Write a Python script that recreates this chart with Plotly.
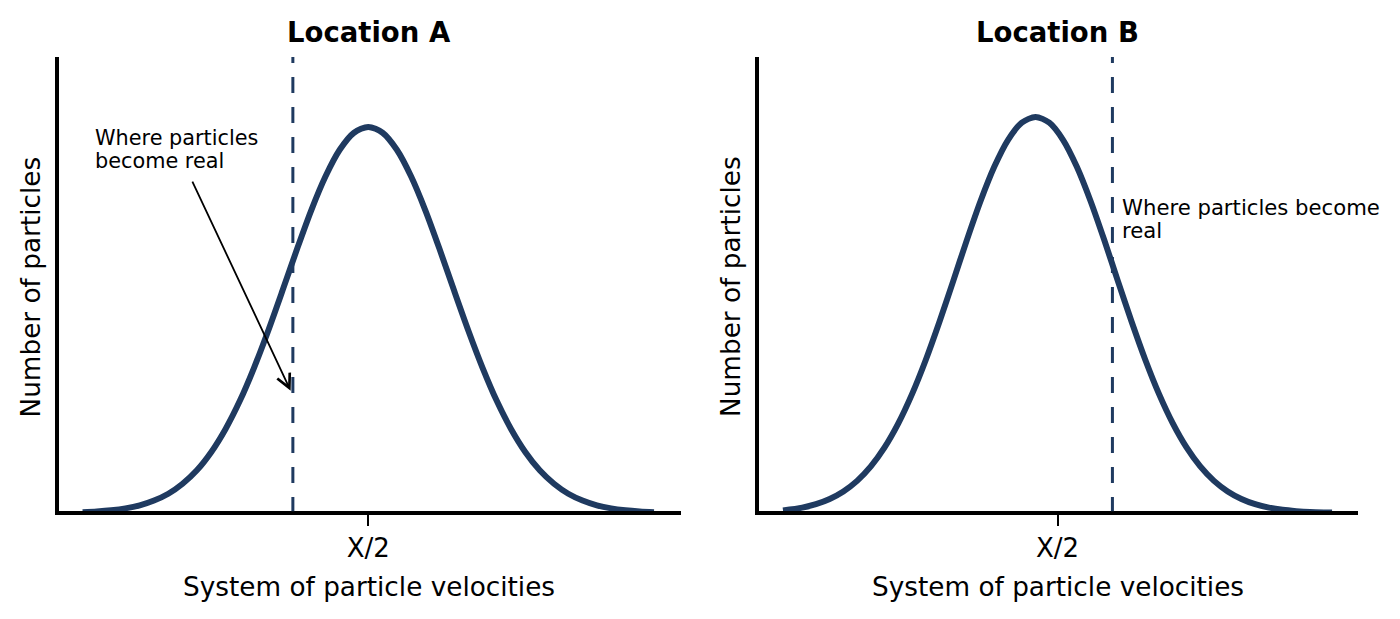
import plotly.graph_objects as go

# ---- data ----
x_a = [0.000, 0.025, 0.050, 0.075, 0.100, 0.125, 0.150, 0.175, 0.200, 0.225, 0.250,
       0.275, 0.300, 0.325, 0.350, 0.375, 0.400, 0.425, 0.450, 0.475, 0.500,
       0.525, 0.550, 0.575, 0.600, 0.625, 0.650, 0.675, 0.700, 0.725, 0.750,
       0.775, 0.800, 0.825, 0.850, 0.875, 0.900, 0.925, 0.950, 0.975, 1.000]
y_a = [0.006, 0.011, 0.019, 0.032, 0.053, 0.086, 0.133, 0.202, 0.295, 0.420, 0.579,
       0.773, 1.003, 1.261, 1.538, 1.820, 2.089, 2.324, 2.509, 2.627, 2.667,
       2.627, 2.509, 2.324, 2.089, 1.820, 1.538, 1.261, 1.003, 0.773, 0.579,
       0.420, 0.295, 0.202, 0.133, 0.086, 0.053, 0.032, 0.019, 0.011, 0.006]

x_b = [0.000, 0.035, 0.060, 0.085, 0.110, 0.135, 0.160, 0.185, 0.210, 0.235, 0.260,
       0.285, 0.310, 0.335, 0.360, 0.385, 0.410, 0.435, 0.460,
       0.485, 0.510, 0.535, 0.560, 0.585, 0.610, 0.635, 0.660, 0.685, 0.710, 0.735,
       0.760, 0.785, 0.810, 0.835, 0.860, 0.885, 0.910, 0.935, 0.960, 0.985, 1.000]
y_b = [0.018, 0.037, 0.061, 0.097, 0.149, 0.222, 0.322, 0.453, 0.619, 0.821, 1.057,
       1.321, 1.602, 1.887, 2.157, 2.393, 2.578, 2.696, 2.736,
       2.696, 2.578, 2.393, 2.157, 1.887, 1.602, 1.321, 1.057, 0.821, 0.619, 0.453,
       0.322, 0.222, 0.149, 0.097, 0.061, 0.037, 0.022, 0.013, 0.007, 0.004, 0.003]

threshold_a = 0.368
threshold_b = 0.60
tick_vals = [0.5]
tick_text = ["X/2"]
titles = ["Location A", "Location B"]
x_label = "System of particle velocities"
y_label = "Number of particles"

NAVY = "#1f3a60"
FONT = "DejaVu Sans"
W, H = 1400, 619

fig = go.Figure()
fig.add_trace(go.Scatter(x=x_a, y=y_a, mode="lines", line=dict(color=NAVY, width=6, shape="spline", smoothing=0.8),
                         xaxis="x", yaxis="y", showlegend=False, hoverinfo="skip"))
fig.add_trace(go.Scatter(x=x_b, y=y_b, mode="lines", line=dict(color=NAVY, width=6, shape="spline", smoothing=0.8),
                         xaxis="x2", yaxis="y2", showlegend=False, hoverinfo="skip"))

y_top = 3.150
y_bottom = 0.0121

axis_common = dict(showgrid=False, zeroline=False, showline=True, linecolor="black", linewidth=3.5,
                   mirror=False)
xaxis_common = dict(axis_common, ticks="outside", ticklen=11, tickwidth=2, tickcolor="black",
                    tickvals=tick_vals, ticktext=tick_text,
                    tickfont=dict(family=FONT, size=26, color="black"))
yaxis_common = dict(axis_common, ticks="", showticklabels=False, range=[y_bottom, y_top])

ydom = [1 - 511.25 / H, 1 - 57 / H]
fig.update_layout(
    width=W, height=H, autosize=False,
    margin=dict(l=0, r=0, t=0, b=0),
    paper_bgcolor="white", plot_bgcolor="white",
    xaxis=dict(xaxis_common, domain=[58.75 / W, 680.5 / W], range=[-0.04174, 1.0464], anchor="y"),
    yaxis=dict(yaxis_common, domain=ydom, anchor="x"),
    xaxis2=dict(xaxis_common, domain=[759.25 / W, 1357.5 / W], range=[-0.04326, 1.0464], anchor="y2"),
    yaxis2=dict(yaxis_common, domain=ydom, anchor="x2"),
)

# threshold dashed lines
for xr, yr, xv in (("x", "y", threshold_a), ("x2", "y2", threshold_b)):
    fig.add_shape(type="line", xref=xr, yref=yr, x0=xv, x1=xv, y0=0, y1=y_top,
                  line=dict(color=NAVY, width=3, dash="16px,14px"))

ann = []
# titles
for cx, t in ((368.5 / W, titles[0]), (1057.5 / W, titles[1])):
    ann.append(dict(xref="paper", yref="paper", x=cx, y=1 - 32.5 / H, text="<b>%s</b>" % t,
                    showarrow=False, xanchor="center", yanchor="middle",
                    font=dict(family=FONT, size=27.5, color="black")))
# axis titles
for cx in (368.5 / W, 1057.5 / W):
    ann.append(dict(xref="paper", yref="paper", x=cx, y=1 - 587 / H, text=x_label,
                    showarrow=False, xanchor="center", yanchor="middle",
                    font=dict(family=FONT, size=26.3, color="black")))
for cx in (30.5 / W, 731 / W):
    ann.append(dict(xref="paper", yref="paper", x=cx, y=1 - 287 / H, text=y_label, textangle=-90,
                    showarrow=False, xanchor="center", yanchor="middle",
                    font=dict(family=FONT, size=26.3, color="black")))

# annotation A (text + arrow)
ann.append(dict(xref="x", yref="y", x=0.0182, y=2.590, text="Where particles", showarrow=False,
                xanchor="left", yanchor="middle", font=dict(family=FONT, size=20.8, color="black")))
ann.append(dict(xref="x", yref="y", x=0.0182, y=2.435, text="become real", showarrow=False,
                xanchor="left", yanchor="middle", font=dict(family=FONT, size=20.8, color="black")))
ann.append(dict(xref="x", yref="y", x=0.3641, y=0.845, axref="x", ayref="y", ax=0.1909, ay=2.300,
                text="", showarrow=True, arrowhead=5, arrowsize=1.5, arrowwidth=1.8,
                arrowcolor="black", standoff=0, startstandoff=0,
                font=dict(size=1)))
# annotation B
ann.append(dict(xref="x2", yref="y2", x=0.6144, y=2.107, text="Where particles become", showarrow=False,
                xanchor="left", yanchor="middle", font=dict(family=FONT, size=21.2, color="black")))
ann.append(dict(xref="x2", yref="y2", x=0.6144, y=1.951, text="real", showarrow=False,
                xanchor="left", yanchor="middle", font=dict(family=FONT, size=21.2, color="black")))

fig.update_layout(annotations=ann)
fig.write_html("out.html")
